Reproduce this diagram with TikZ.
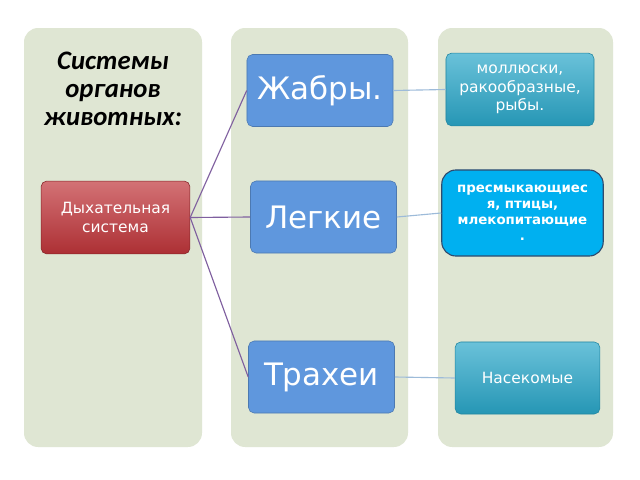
\documentclass[tikz,border=0pt]{standalone}
\usepackage{fontspec}
\setmainfont{DejaVu Sans}
\newfontfamily\titlefont{Carlito}
\definecolor{colbg}{HTML}{DFE6D3}
\definecolor{sysred}{HTML}{C0353A}
\definecolor{organblue}{HTML}{5F97DD}
\definecolor{animteal}{HTML}{2AA7C9}
\definecolor{animcyan}{HTML}{00B0F0}
\definecolor{linkpurple}{HTML}{7F5F9F}
\definecolor{linkblue}{HTML}{9DBBD9}
\tikzset{
  column/.style={fill=colbg, rounded corners=10pt},
  sysbox/.style={draw=sysred!70!black, top color=sysred!70!white, bottom color=sysred!90!black,
    rounded corners=4pt, text=white, align=center, font=\fontsize{11}{13}\selectfont},
  organbox/.style={draw=organblue!80!black, fill=organblue, rounded corners=4pt, text=white,
    font=\fontsize{22}{24}\selectfont, minimum width=3.65cm, minimum height=1.8cm},
  animbox/.style={draw=animteal!80!black, top color=animteal!70!white, bottom color=animteal!90!black,
    rounded corners=4pt, text=white, align=center, font=\fontsize{11}{13}\selectfont},
  link/.style={linkpurple, thick},
  sublink/.style={linkblue, thick}
}
\begin{document}
\begin{tikzpicture}[x=0.025cm, y=-0.025cm]
  \useasboundingbox (0,0) rectangle (640,480);
  \fill[white] (0,0) rectangle (640,480);
  % columns
  \fill[column] (24,28) rectangle (202,447);
  \fill[column] (231,28) rectangle (408,447);
  \fill[column] (438,28) rectangle (613,447);

  \node[align=center, font=\titlefont\fontsize{19}{20}\selectfont\bfseries\itshape] (title) at (113,89)
    {Системы\\органов\\животных:};

  \node[sysbox, minimum width=3.72cm, minimum height=1.82cm] (resp) at (115.5,217.5)
    {Дыхательная\\система};

  \node[organbox] (gills) at (320,90.5) {Жабры.};
  \node[organbox] (lungs) at (323.5,217) {Легкие};
  \node[organbox] (trach) at (321.5,377) {Трахеи};

  \node[animbox, minimum width=3.7cm, minimum height=1.82cm] (mollusc) at (520,89.5)
    {моллюски,\\ракообразные,\\рыбы.};
  \node[draw=organblue!50!black, thick, fill=animcyan, rounded corners=10pt, text=white,
    align=center, font=\fontsize{9.5}{11.5}\selectfont\bfseries,
    minimum width=4cm, minimum height=2.15cm, text width=3.8cm] (reptile) at (522.5,213)
    {пресмыкающиес\\я, птицы,\\млекопитающие\\.};
  \node[animbox, minimum width=3.62cm, minimum height=1.8cm] (insect) at (527.5,378) {Насекомые};

  \draw[link] (resp.east) -- (gills.west);
  \draw[link] (resp.east) -- (lungs.west);
  \draw[link] (resp.east) -- (trach.west);
  \draw[sublink] (gills.east) -- (mollusc.west);
  \draw[sublink] (lungs.east) -- (reptile.west);
  \draw[sublink] (trach.east) -- (insect.west);
\end{tikzpicture}
\end{document}
